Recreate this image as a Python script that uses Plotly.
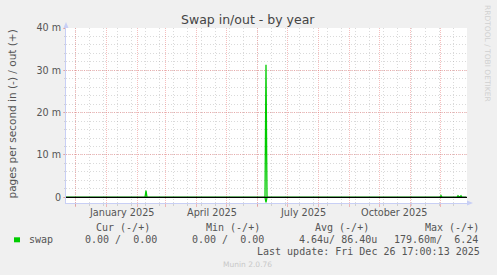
import plotly.graph_objects as go

# ---------------- data ----------------
x_start = "2024-11-21 17:00"
x_end = "2025-12-27 17:00"

out_times = ["2024-11-21 17:00", "2025-02-08 17:00", "2025-02-09 17:00", "2025-02-10 17:00",
             "2025-06-08 17:00", "2025-06-09 17:00", "2025-06-10 17:00",
             "2025-11-30 17:00", "2025-12-01 17:00", "2025-12-02 17:00",
             "2025-12-17 17:00", "2025-12-18 17:00", "2025-12-19 17:00", "2025-12-20 17:00",
             "2025-12-21 17:00", "2025-12-22 17:00", "2025-12-26 17:00"]
out_values = [0.0, 0.0, 0.0016, 0.0,
              0.0, 0.0313, 0.0,
              0.0, 0.0004, 0.0,
              0.0, 0.00035, 0.00015, 0.00015,
              0.00035, 0.0, 0.0]

in_times = ["2024-11-21 17:00", "2025-06-08 17:00", "2025-06-09 17:00", "2025-06-10 17:00", "2025-12-26 17:00"]
in_values = [0.0, 0.0, 0.0012, 0.0, 0.0]

month_starts = ["2024-12-01", "2025-01-01", "2025-02-01", "2025-03-01", "2025-04-01", "2025-05-01",
                "2025-06-01", "2025-07-01", "2025-08-01", "2025-09-01", "2025-10-01", "2025-11-01",
                "2025-12-01"]
label_dates = ["2025-01-16 12:00", "2025-04-16 12:00", "2025-07-16 12:00", "2025-10-16 12:00"]
label_texts = ["January 2025", "April 2025", "July 2025", "October 2025"]

y_tickvals = [0, 0.01, 0.02, 0.03, 0.04]
y_ticktext = ["0", "10 m", "20 m", "30 m", "40 m"]
y_range = [-0.00135, 0.04]

legend_name = "swap"
legend_headers = ["Cur (-/+)", "Min (-/+)", "Avg (-/+)", "Max (-/+)"]
legend_values = ["0.00 /  0.00", "0.00 /  0.00", "4.64u/ 86.40u", "179.60m/  6.24"]
last_update = "Last update: Fri Dec 26 17:00:13 2025"
title = "Swap in/out - by year"
y_title = "pages per second in (-) / out (+)"

# ---------------- layout helpers ----------------
W, H = 497, 275
L, R, T, B = 66, 30, 28, 72
PW, PH = W - L - R, H - T - B


def px(x):
    return (x - L) / PW


def py(y):
    return (H - B - y) / PH


GREEN = "#00CC00"
RED_GRID = "rgba(235,110,110,0.45)"
GRAY_GRID = "rgba(150,150,150,0.35)"
AXIS = "#C8CFF5"
TXT = "#555555"

fig = go.Figure()
fig.add_trace(go.Scatter(x=out_times, y=out_values, mode="lines",
                         line=dict(color=GREEN, width=1.3), hoverinfo="skip"))
fig.add_trace(go.Scatter(x=in_times, y=[-v for v in in_values], mode="lines",
                         line=dict(color=GREEN, width=1.3), hoverinfo="skip"))

fig.update_layout(
    width=W, height=H,
    margin=dict(l=L, r=R, t=T, b=B, pad=0),
    paper_bgcolor="#F0F0F0", plot_bgcolor="#FFFFFF",
    showlegend=False,
    font=dict(family="DejaVu Sans", size=10, color=TXT),
)

fig.update_xaxes(
    type="date", range=[x_start, x_end],
    tickmode="array", tickvals=month_starts, ticktext=[""] * len(month_starts),
    showgrid=True, gridcolor=RED_GRID, griddash="1px,1px", gridwidth=1,
    ticks="outside", ticklen=3, tickcolor=RED_GRID,
    showline=True, linecolor=AXIS, linewidth=1, zeroline=False,
    minor=dict(tickmode="linear", tick0="2024-12-01", dtick=14 * 86400000,
               showgrid=True, gridcolor=GRAY_GRID, griddash="1px,2px",
               ticks="outside", ticklen=2, tickcolor=GRAY_GRID),
)
fig.update_yaxes(
    range=y_range, tickmode="array", tickvals=y_tickvals, ticktext=y_ticktext,
    showgrid=True, gridcolor=RED_GRID, griddash="1px,1px", gridwidth=1,
    ticks="outside", ticklen=2, tickcolor=RED_GRID,
    tickfont=dict(family="DejaVu Sans", size=9.6, color=TXT),
    showline=True, linecolor=AXIS, linewidth=1, zeroline=False,
    minor=dict(tickmode="linear", tick0=0, dtick=0.002,
               showgrid=True, gridcolor=GRAY_GRID, griddash="1px,2px",
               ticks="outside", ticklen=1, tickcolor=GRAY_GRID),
)

shapes = []
# zero line
shapes.append(dict(type="line", xref="paper", yref="y", x0=0, x1=1, y0=0, y1=0,
                   line=dict(color="#000000", width=1.3), layer="above"))
# axis arrows
shapes.append(dict(type="path", xref="paper", yref="paper",
                   path=f"M {px(63.5)} {py(28)} L {px(68.5)} {py(28)} L {px(66)} {py(22)} Z",
                   fillcolor=AXIS, line=dict(width=0)))
shapes.append(dict(type="path", xref="paper", yref="paper",
                   path=f"M {px(467)} {py(200.5)} L {px(467)} {py(205.5)} L {px(473)} {py(203)} Z",
                   fillcolor=AXIS, line=dict(width=0)))
# legend colour box
shapes.append(dict(type="rect", xref="paper", yref="paper",
                   x0=px(14), x1=px(20), y0=py(242.3), y1=py(237.3),
                   fillcolor=GREEN, line=dict(width=0)))
fig.update_layout(shapes=shapes)

ann = []
ann.append(dict(text=title, x=px(248.3), y=py(19.3), xref="paper", yref="paper",
                showarrow=False, xanchor="center", yanchor="middle",
                font=dict(family="DejaVu Sans", size=12.5, color="#444444")))
ann.append(dict(text=y_title, x=px(11.5), y=py(114), xref="paper", yref="paper",
                showarrow=False, textangle=-90, xanchor="center", yanchor="middle",
                font=dict(family="DejaVu Sans", size=10.5, color=TXT)))
ann.append(dict(text="RRDTOOL / TOBI OETIKER", x=px(488), y=py(53), xref="paper", yref="paper",
                showarrow=False, textangle=90, xanchor="center", yanchor="middle",
                font=dict(family="DejaVu Sans", size=7.5, color="#D0D0D0")))
for d, t in zip(label_dates, label_texts):
    ann.append(dict(text=t, x=d, y=py(212.8), xref="x", yref="paper",
                    showarrow=False, xanchor="center", yanchor="middle",
                    font=dict(family="DejaVu Sans", size=9.7, color=TXT)))

MONO = dict(family="DejaVu Sans Mono", size=10, color=TXT)
header_x = [94, 204, 313.3, 422.7]
value_x = [83.3, 190.3, 297.3, 392.3]
for hx, h in zip(header_x, legend_headers):
    ann.append(dict(text=h.replace(" ", "&nbsp;"), x=px(hx), y=py(227.7), xref="paper", yref="paper",
                    showarrow=False, xanchor="left", yanchor="middle", font=MONO))
ann.append(dict(text=legend_name, x=px(26.7), y=py(239.7), xref="paper", yref="paper",
                showarrow=False, xanchor="left", yanchor="middle", font=MONO))
for vx, v in zip(value_x, legend_values):
    ann.append(dict(text=v.replace(" ", "&nbsp;"), x=px(vx), y=py(239.7), xref="paper", yref="paper",
                    showarrow=False, xanchor="left", yanchor="middle", font=MONO))
ann.append(dict(text=last_update.replace(" ", "&nbsp;"), x=px(482.3), y=py(251), xref="paper", yref="paper",
                showarrow=False, xanchor="right", yanchor="middle", font=MONO))
ann.append(dict(text="Munin 2.0.76", x=px(247.7), y=py(264), xref="paper", yref="paper",
                showarrow=False, xanchor="center", yanchor="middle",
                font=dict(family="DejaVu Sans", size=7.5, color="#C8C8C8")))
fig.update_layout(annotations=ann)

fig.write_html("out.html")
